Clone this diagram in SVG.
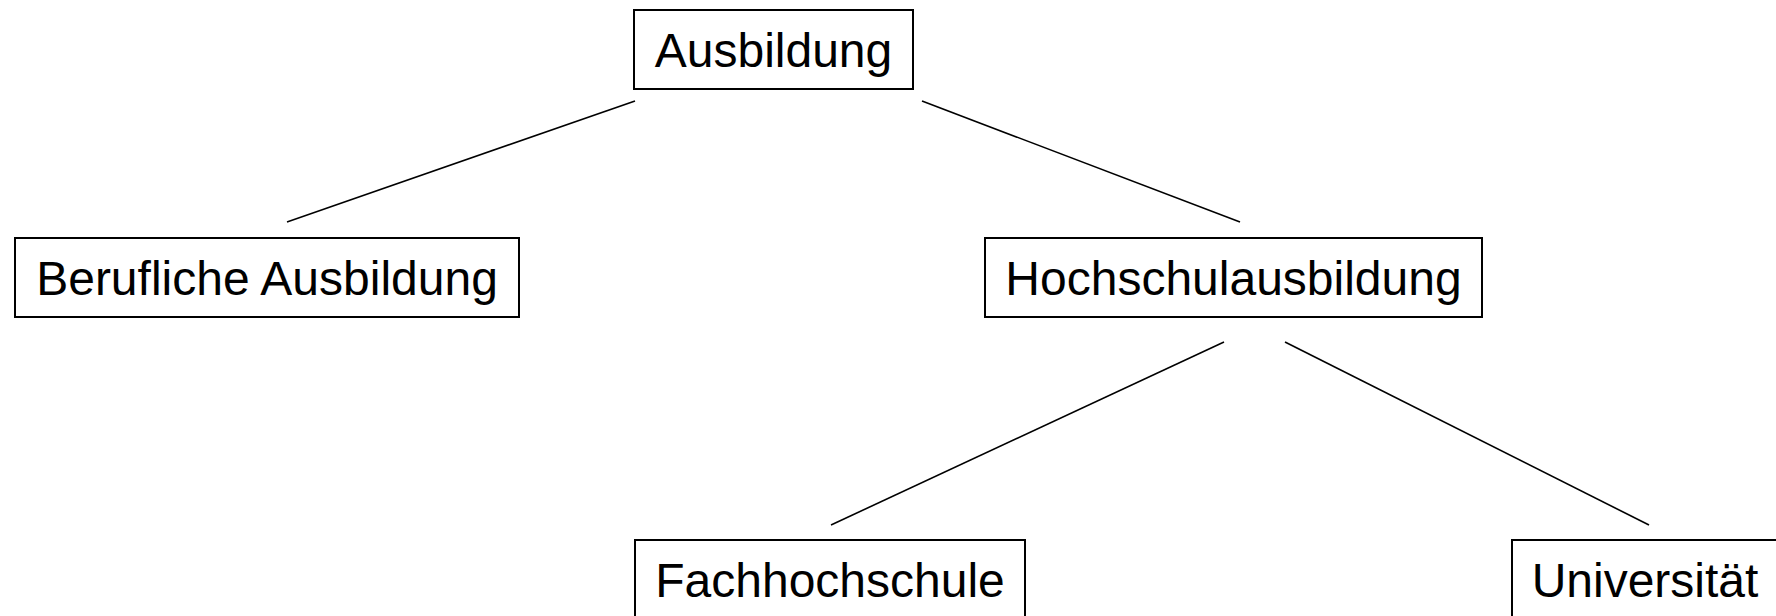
<svg xmlns="http://www.w3.org/2000/svg" width="1776" height="616" viewBox="0 0 1776 616">
<style>
.box{fill:#fff;stroke:#000;stroke-width:2}
.lbl{font-family:"Liberation Sans",Arial,sans-serif;font-size:48px;fill:#000;text-anchor:middle}
.edge{stroke:#000;stroke-width:1.6;fill:none}
</style>
<rect width="1776" height="616" fill="#fff"/>
<g id="connectors">
<line class="edge" x1="635" y1="101" x2="287" y2="222"/>
<line class="edge" x1="922" y1="101" x2="1240" y2="222"/>
<line class="edge" x1="1224" y1="342" x2="831" y2="525"/>
<line class="edge" x1="1285" y1="342" x2="1649" y2="525"/>
</g>
<g id="ausbildung">
<rect class="box" x="634" y="10" width="279" height="79"/>
<text class="lbl" x="773.5" y="67">Ausbildung</text>
</g>
<g id="berufliche">
<rect class="box" x="15" y="238" width="504" height="79"/>
<text class="lbl" x="267" y="295">Berufliche Ausbildung</text>
</g>
<g id="hochschul">
<rect class="box" x="985" y="238" width="497" height="79"/>
<text class="lbl" x="1233.5" y="295">Hochschulausbildung</text>
</g>
<g id="fachhochschule">
<rect class="box" x="635" y="540" width="390" height="79"/>
<text class="lbl" x="830" y="597">Fachhochschule</text>
</g>
<g id="universitaet">
<rect class="box" x="1512" y="540" width="266" height="79"/>
<text class="lbl" x="1645" y="597">Universität</text>
</g>
</svg>
